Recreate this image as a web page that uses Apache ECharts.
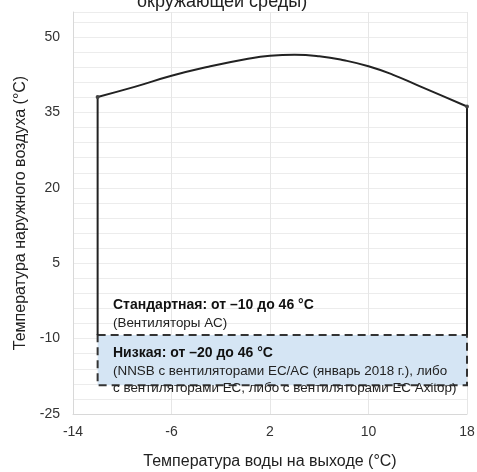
<!DOCTYPE html>
<html>
<head>
<meta charset="utf-8">
<script src="https://cdn.jsdelivr.net/npm/echarts@6/dist/echarts.min.js"></script>
<style>
html,body{margin:0;padding:0;background:#fff;}
#chart{width:477px;height:472px;}
</style>
</head>
<body>
<div id="chart"></div>
<script>
// ---- data (real units) ----
const xTickLabels = [-14, -6, 2, 10, 18];
const yTickLabels = [-25, -10, 5, 20, 35, 50];
const xRange = [-14, 18];
const yRange = [-25, 55];
// upper envelope (outdoor air temp limit) vs leaving water temp
const curveX = [-12, -9, -6, -3, 0, 2, 4, 6, 8, 10, 12, 14, 16, 18];
const curveY = [38.1, 40.1, 42.3, 44.1, 45.6, 46.3, 46.5, 46.2, 45.4, 44.2, 42.5, 40.4, 38.3, 36.2];
// standard range lower edge & low-ambient box
const standardBottom = -9.3;
const lowBoxX = [-12, 18];
const lowBoxY = [-9.3, -19.3];

const X0 = xRange[0], Y0 = yRange[0];
const px = v => v - X0, py = v => v - Y0;

const chart = echarts.init(document.getElementById('chart'));
const font = 'Liberation Sans, Arial, sans-serif';

const n = curveX.length - 1;
const curveData = curveX.map((x, i) => ({
  value: [px(x), py(curveY[i])],
  symbolSize: (i === 0 || i === n) ? 4 : 0
}));
const leftLine = [[px(curveX[0]), py(standardBottom)], [px(curveX[0]), py(curveY[0])]];
const rightLine = [[px(curveX[n]), py(standardBottom)], [px(curveX[n]), py(curveY[n])]];

chart.setOption({
  animation: false,
  backgroundColor: '#fff',
  grid: {left: 73, right: 10, top: 12, bottom: 58, containLabel: false, outerBoundsMode: 'none'},
  xAxis: {
    type: 'value', min: 0, max: xRange[1] - X0, interval: 8,
    name: 'Температура воды на выходе (°C)', nameLocation: 'middle', nameGap: 40,
    nameTextStyle: {fontFamily: font, fontSize: 16, color: '#222'},
    axisLine: {show: true, lineStyle: {color: '#d8d8d8', width: 1}},
    axisTick: {show: false},
    axisLabel: {fontFamily: font, fontSize: 14, color: '#333', margin: 11,
      formatter: v => (xTickLabels.indexOf(v + X0) >= 0 ? String(v + X0) : '')},
    splitLine: {show: true, lineStyle: {color: '#e6e6e6', width: 1}}
  },
  yAxis: {
    type: 'value', min: 0, max: yRange[1] - Y0, interval: 3,
    name: 'Температура наружного воздуха (°C)', nameLocation: 'middle', nameGap: 43,
    nameTextStyle: {fontFamily: font, fontSize: 16, color: '#222'},
    axisLine: {show: true, lineStyle: {color: '#d8d8d8', width: 1}},
    axisTick: {show: false},
    axisLabel: {fontFamily: font, fontSize: 14, color: '#333', margin: 13,
      formatter: v => (yTickLabels.indexOf(v + Y0) >= 0 ? String(v + Y0) : '')},
    splitLine: {show: true, lineStyle: {color: '#ececec', width: 1}}
  },
  series: [
    {
      type: 'line', data: [], silent: true,
      markArea: {
        silent: true,
        itemStyle: {color: '#d5e5f4', borderColor: '#333', borderWidth: 2, borderType: [8, 5]},
        data: [[{coord: [px(lowBoxX[0]), py(lowBoxY[0])]}, {coord: [px(lowBoxX[1]), py(lowBoxY[1])]}]]
      },
      z: 1
    },
    {
      type: 'line', data: leftLine, symbol: 'none',
      lineStyle: {color: '#222', width: 2}, z: 3
    },
    {
      type: 'line', data: rightLine, symbol: 'none',
      lineStyle: {color: '#222', width: 2}, z: 3
    },
    {
      type: 'line', data: curveData, smooth: 0.5,
      symbol: 'circle', showSymbol: true,
      itemStyle: {color: '#444'},
      lineStyle: {color: '#222', width: 2}, z: 4
    }
  ],
  graphic: [
    {type: 'text', z: 10, style: {x: 137, y: 11, verticalAlign: 'bottom',
      text: 'окружающей среды)', font: '18px ' + font, fill: '#222'}},
    {type: 'text', z: 10, style: {x: 113, y: 305, verticalAlign: 'middle',
      text: 'Стандартная: от –10 до 46 °C', font: 'bold 14px ' + font, fill: '#111'}},
    {type: 'text', z: 10, style: {x: 113, y: 323, verticalAlign: 'middle',
      text: '(Вентиляторы AC)', font: '13.4px ' + font, fill: '#222'}},
    {type: 'text', z: 10, style: {x: 113, y: 353, verticalAlign: 'middle',
      text: 'Низкая: от –20 до 46 °C', font: 'bold 14px ' + font, fill: '#111'}},
    {type: 'text', z: 10, style: {x: 113, y: 371, verticalAlign: 'middle',
      text: '(NNSB с вентиляторами EC/AC (январь 2018 г.), либо', font: '13.4px ' + font, fill: '#222'}},
    {type: 'text', z: 10, style: {x: 113, y: 388, verticalAlign: 'middle',
      text: 'с вентиляторами EC, либо с вентиляторами EC Axitop)', font: '13.4px ' + font, fill: '#222'}}
  ]
});
</script>
</body>
</html>
